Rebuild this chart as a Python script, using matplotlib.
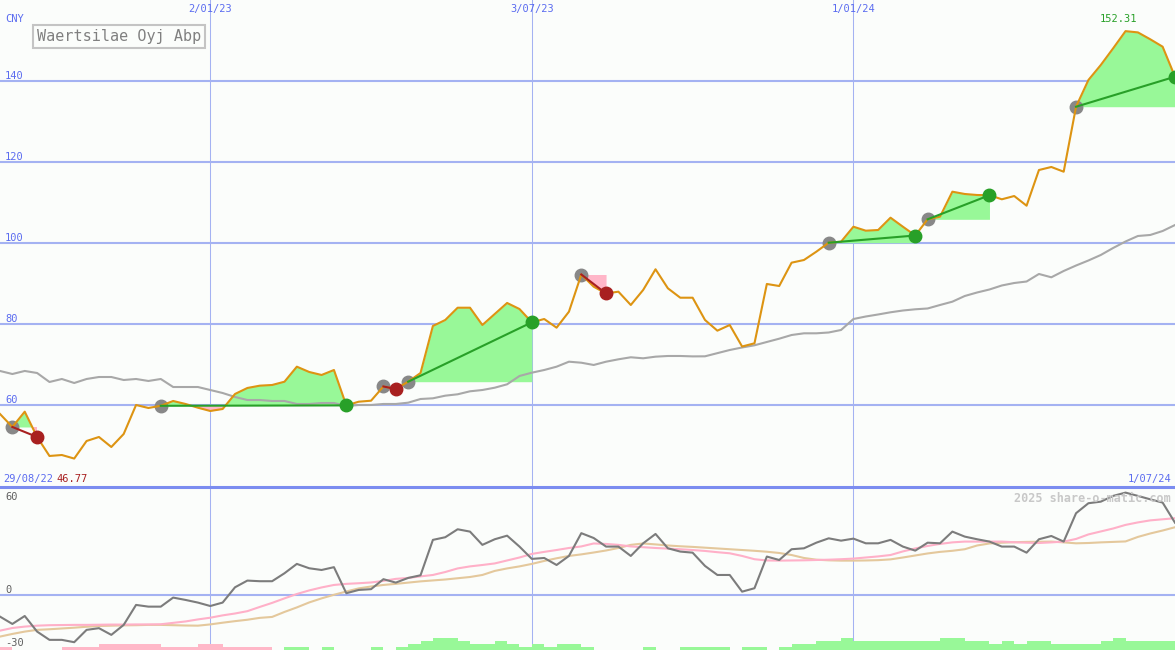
import numpy as np
import matplotlib.pyplot as plt
from matplotlib.lines import Line2D

# weekly closes, 96 points (index 0 = first visible week)
price = [57.78, 54.57, 58.35, 52.10, 47.41, 47.65, 46.77, 51.11, 52.10, 49.63,
         52.84, 60.00, 59.26, 59.80, 60.99, 60.25, 59.33, 58.52, 59.01, 62.72,
         64.20, 64.77, 64.94, 65.75, 69.46, 68.15, 67.41, 68.64, 59.90, 60.81,
         61.06, 64.57, 63.95, 65.75, 67.90, 79.51, 80.99, 84.02, 84.02, 79.75,
         82.47, 85.19, 83.70, 80.42, 81.23, 79.09, 83.04, 92.22, 89.21, 87.53,
         87.98, 84.69, 88.40, 93.51, 88.81, 86.49, 86.49, 80.99, 78.35, 79.75,
         74.44, 75.23, 89.88, 89.38, 95.14, 95.80, 97.85, 100.07, 100.32, 104.02,
         103.04, 103.21, 106.25, 104.02, 101.85, 105.85, 106.49, 112.67, 112.10, 111.85,
         111.80, 110.79, 111.60, 109.21, 118.02, 118.77, 117.60, 133.65, 140.25, 143.95,
         148.07, 152.31, 152.00, 150.30, 148.47, 141.06]

avg = [68.4, 67.65, 68.4, 67.9, 65.68, 66.42, 65.43, 66.42, 66.91, 66.91,
       66.17, 66.42, 65.93, 66.42, 64.44, 64.44, 64.44, 63.70, 62.96, 61.98,
       61.23, 61.23, 60.99, 60.99, 60.25, 60.25, 60.49, 60.49, 59.75, 60.0,
       60.0, 60.25, 60.25, 60.57, 61.48, 61.65, 62.30, 62.64, 63.38, 63.70,
       64.27, 65.11, 67.16, 67.98, 68.64, 69.46, 70.69, 70.44, 69.88, 70.69,
       71.28, 71.78, 71.53, 71.93, 72.10, 72.10, 72.0, 72.02, 72.8, 73.58,
       74.2, 74.74, 75.56, 76.37, 77.28, 77.7, 77.7, 77.9, 78.52, 81.23,
       81.85, 82.35, 82.89, 83.33, 83.63, 83.83, 84.69, 85.51, 86.91, 87.78,
       88.52, 89.51, 90.12, 90.49, 92.35, 91.53, 93.09, 94.44, 95.68, 97.04,
       98.77, 100.37, 101.73, 101.98, 102.96, 104.44]

osc = [-13.9, -18.6, -13.5, -23.5, -28.8, -28.8, -30.3, -22.4, -21.3, -25.6,
       -19.2, -6.4, -7.5, -7.5, -1.7, -3.2, -4.9, -7.1, -4.9, 4.9,
       9.2, 8.8, 8.8, 13.9, 19.9, 17.1, 16.0, 17.8, 1.1, 3.2,
       3.7, 10.1, 7.9, 10.9, 12.6, 35.3, 37.0, 42.1, 40.6, 32.1,
       35.7, 38.0, 31.0, 23.1, 23.7, 19.2, 25.0, 39.6, 36.5, 31.0,
       31.0, 25.0, 33.1, 39.1, 29.9, 27.8, 27.1, 18.6, 12.8, 12.8,
       2.1, 4.3, 24.6, 22.4, 29.3, 29.9, 33.5, 36.3, 34.8, 36.1,
       33.1, 33.1, 35.3, 31.0, 28.4, 33.5, 33.1, 40.6, 37.4, 35.7,
       34.2, 31.0, 31.0, 27.1, 35.7, 37.8, 34.2, 52.4, 58.8, 59.8,
       63.5, 65.6, 63.5, 61.3, 59.2, 46.3]

osc_fast = [-22.9, -21.2, -20.3, -19.7, -19.4, -19.3, -19.2, -19.2, -19.1, -19.0,
            -19.0, -18.9, -18.9, -18.8, -17.9, -17.0, -15.7, -14.6, -13.1, -11.9,
            -10.4, -7.7, -5.1, -2.2, 0.6, 2.9, 4.8, 6.4, 7.1, 7.5,
            8.0, 9.0, 10.3, 10.9, 11.9, 12.8, 14.7, 17.0, 18.3, 19.2,
            20.2, 22.1, 24.0, 26.3, 27.6, 28.8, 30.1, 31.1, 33.0, 32.7,
            32.1, 31.1, 30.6, 30.1, 29.7, 29.3, 28.8, 28.2, 27.4, 26.7,
            25.0, 22.9, 22.1, 22.0, 22.1, 22.2, 22.4, 22.6, 22.9, 23.3,
            24.0, 24.7, 25.6, 27.9, 29.8, 31.4, 32.7, 33.7, 34.2, 34.2,
            34.2, 34.2, 33.8, 33.5, 33.3, 33.7, 34.2, 35.9, 38.8, 40.7,
            42.6, 44.9, 46.5, 47.8, 48.5, 49.2]

osc_slow = [-26.7, -25.0, -23.5, -22.4, -22.0, -21.5, -21.0, -20.4, -19.9, -19.7,
            -19.5, -19.4, -19.2, -19.2, -19.4, -19.6, -19.7, -18.9, -17.8, -16.8,
            -15.9, -14.7, -14.1, -10.9, -8.0, -4.8, -2.2, 0.1, 2.2, 4.2,
            5.4, 6.4, 7.1, 7.9, 8.7, 9.3, 9.9, 10.7, 11.5, 12.8,
            15.4, 17.0, 18.3, 19.9, 21.8, 23.5, 25.0, 26.0, 27.2, 28.5,
            30.1, 32.1, 33.0, 32.4, 31.7, 31.2, 30.8, 30.3, 29.8, 29.3,
            28.8, 28.3, 27.7, 26.9, 25.6, 23.7, 22.6, 22.2, 22.0, 22.0,
            22.1, 22.3, 22.8, 24.0, 25.3, 26.6, 27.6, 28.3, 29.3, 31.7,
            33.0, 33.5, 33.8, 34.0, 34.1, 34.2, 33.7, 33.1, 33.3, 33.7,
            34.0, 34.3, 37.2, 39.4, 41.3, 43.4]

hist = [-1.9, 0, 0, 0, 0, -1.9, -1.9, -1.9, -3.8, -3.8,
        -3.8, -3.8, -3.8, -1.9, -1.9, -1.9, -3.8, -3.8, -1.9, -1.9,
        -1.9, -1.9, 0, 1.9, 1.9, 0, 1.9, 0, 0, 0,
        1.9, 0, 1.9, 3.8, 5.8, 7.7, 7.7, 5.8, 3.8, 3.8,
        5.8, 3.8, 1.9, 3.8, 1.9, 3.8, 3.8, 1.9, 0, 0,
        0, 0, 1.9, 0, 0, 1.9, 1.9, 1.9, 1.9, 0,
        1.9, 1.9, 0, 1.9, 3.8, 3.8, 5.8, 5.8, 7.7, 5.8,
        5.8, 5.8, 5.8, 5.8, 5.8, 5.8, 7.7, 7.7, 5.8, 5.8,
        3.8, 5.8, 3.8, 5.8, 5.8, 3.8, 3.8, 3.8, 3.8, 5.8,
        7.7, 5.8, 5.8, 5.8, 5.8, 5.8]

# (entry week, exit week)
trades = [(1, 3), (13, 28), (31, 32), (33, 43), (47, 49), (67, 74), (75, 80), (87, 95)]

tick_idx = [17, 43, 69]
tick_labels = ["2/01/23", "3/07/23", "1/01/24"]
price_levels = [60, 80, 100, 120, 140]
osc_levels = [60, 0, -30]

bg = "#fbfdfb"
grid = "#a4b2f2"
blue_txt = "#5b6cf0"
mono = "DejaVu Sans Mono"

x = np.arange(len(price))
p = np.array(price)

fig = plt.figure(figsize=(11.75, 6.5), dpi=100, facecolor=bg)
top_frac = 163 / 650
ax1 = fig.add_axes([0, top_frac, 1, 1 - top_frac], facecolor=bg)
ax2 = fig.add_axes([0, 0, 1, top_frac], facecolor=bg)
for ax in (ax1, ax2):
    ax.set_xlim(0, len(price) - 1)
    ax.set_xticks([])
    ax.set_yticks([])
    for s in ax.spines.values():
        s.set_visible(False)
    for t in tick_idx:
        ax.axvline(t, color=grid, lw=0.75, zorder=0.5)

ax1.set_ylim(39.75, 160.0)
ax2.set_ylim(-35.3, 69.2)

for lv in price_levels:
    ax1.axhline(lv, color=grid, lw=1.5, zorder=0.5)
ax2.axhline(0, color=grid, lw=1.5, zorder=0.5)

# trade shading
for a, b in trades:
    seg = slice(a, b + 1)
    lvl = price[a]
    ax1.fill_between(x[seg], lvl, p[seg], where=p[seg] >= lvl, interpolate=True,
                     color="#98f898", lw=0, zorder=1)
    ax1.fill_between(x[seg], lvl, p[seg], where=p[seg] < lvl, interpolate=True,
                     color="#ffb6c8", lw=0, zorder=1)

ax1.plot(x, avg, color="#a8a8a8", lw=1.5, zorder=2)
for a, b in trades:
    ax1.plot(a, price[a], "o", color="#888888", ms=9, zorder=2.5)
ax1.plot(x, price, color="#dd9412", lw=1.5, zorder=3)
for a, b in trades:
    col = "#28a028" if price[b] >= price[a] else "#a82020"
    ax1.plot([a, b], [price[a], price[b]], color=col, lw=1.5, zorder=4)
    ax1.plot(b, price[b], "o", color=col, ms=9, zorder=5)

# price-axis labels
ytf = ax1.get_yaxis_transform()
xtf = ax1.get_xaxis_transform()
for lv in price_levels:
    ax1.text(5 / 1175, lv + 0.5, str(lv), transform=ytf, fontsize=7.5,
             family=mono, color=blue_txt, va="baseline")
ax1.text(5 / 1175, 154.6, "CNY", transform=ytf, fontsize=7.5, family=mono,
         color=blue_txt, va="baseline")
for t, lab in zip(tick_idx, tick_labels):
    ax1.text(t, 1 - 12 / 487, lab, transform=xtf, fontsize=7.5, family=mono,
             color=blue_txt, ha="center", va="baseline")
ax1.text(3 / 1175, 40.9, "29/08/22", transform=ytf, fontsize=7.5, family=mono,
         color=blue_txt, va="baseline")
ax1.text(56 / 1175, 40.9, f"{min(price):.2f}", transform=ytf, fontsize=7.5,
         family=mono, color="#a82020", va="baseline")
ax1.text(1171 / 1175, 40.9, "1/07/24", transform=ytf, fontsize=7.5, family=mono,
         color=blue_txt, va="baseline", ha="right")
imax = int(np.argmax(p))
ax1.text(imax - 0.55, p[imax] + 2.3, f"{p[imax]:.2f}", fontsize=7.5, family=mono,
         color="#28a028", ha="center", va="baseline")
ax1.text(37 / 1175, 1 - 41 / 487, "Waertsilae Oyj Abp", transform=ax1.transAxes,
         fontsize=10.9, family=mono, color="#808080", va="baseline",
         bbox=dict(boxstyle="square,pad=0.25", fc=bg, ec="#c4c4c4", lw=1.5))

# lower panel
ax2.bar(x, np.abs(hist), width=1, align="edge", bottom=-35.3,
        color=["#98f898" if h > 0 else "#ffb8c8" for h in hist], lw=0, zorder=1)
ax2.plot(x, osc_slow, color="#e4c89c", lw=1.5, zorder=2)
ax2.plot(x, osc_fast, color="#ffb0c8", lw=1.5, zorder=2.5)
ax2.plot(x, osc, color="#7c7c7c", lw=1.5, zorder=3)
ytf2 = ax2.get_yaxis_transform()
for lv, yy in zip(osc_levels, [61.0, 1.3, -32.5]):
    ax2.text(5 / 1175, yy, str(lv), transform=ytf2, fontsize=7.5, family=mono,
             color="#606060", va="baseline")
ax2.text(1171 / 1175, 59.6, "2025 share-o-matic.com", transform=ytf2,
         fontsize=8.5, family=mono, color="#c8c8c8", ha="right", va="baseline",
         fontweight="bold")

fig.add_artist(Line2D([0, 1], [top_frac, top_frac], transform=fig.transFigure,
                      color="#7b8cf0", lw=2.2))

fig.savefig("out.png", dpi=100, facecolor=bg)
